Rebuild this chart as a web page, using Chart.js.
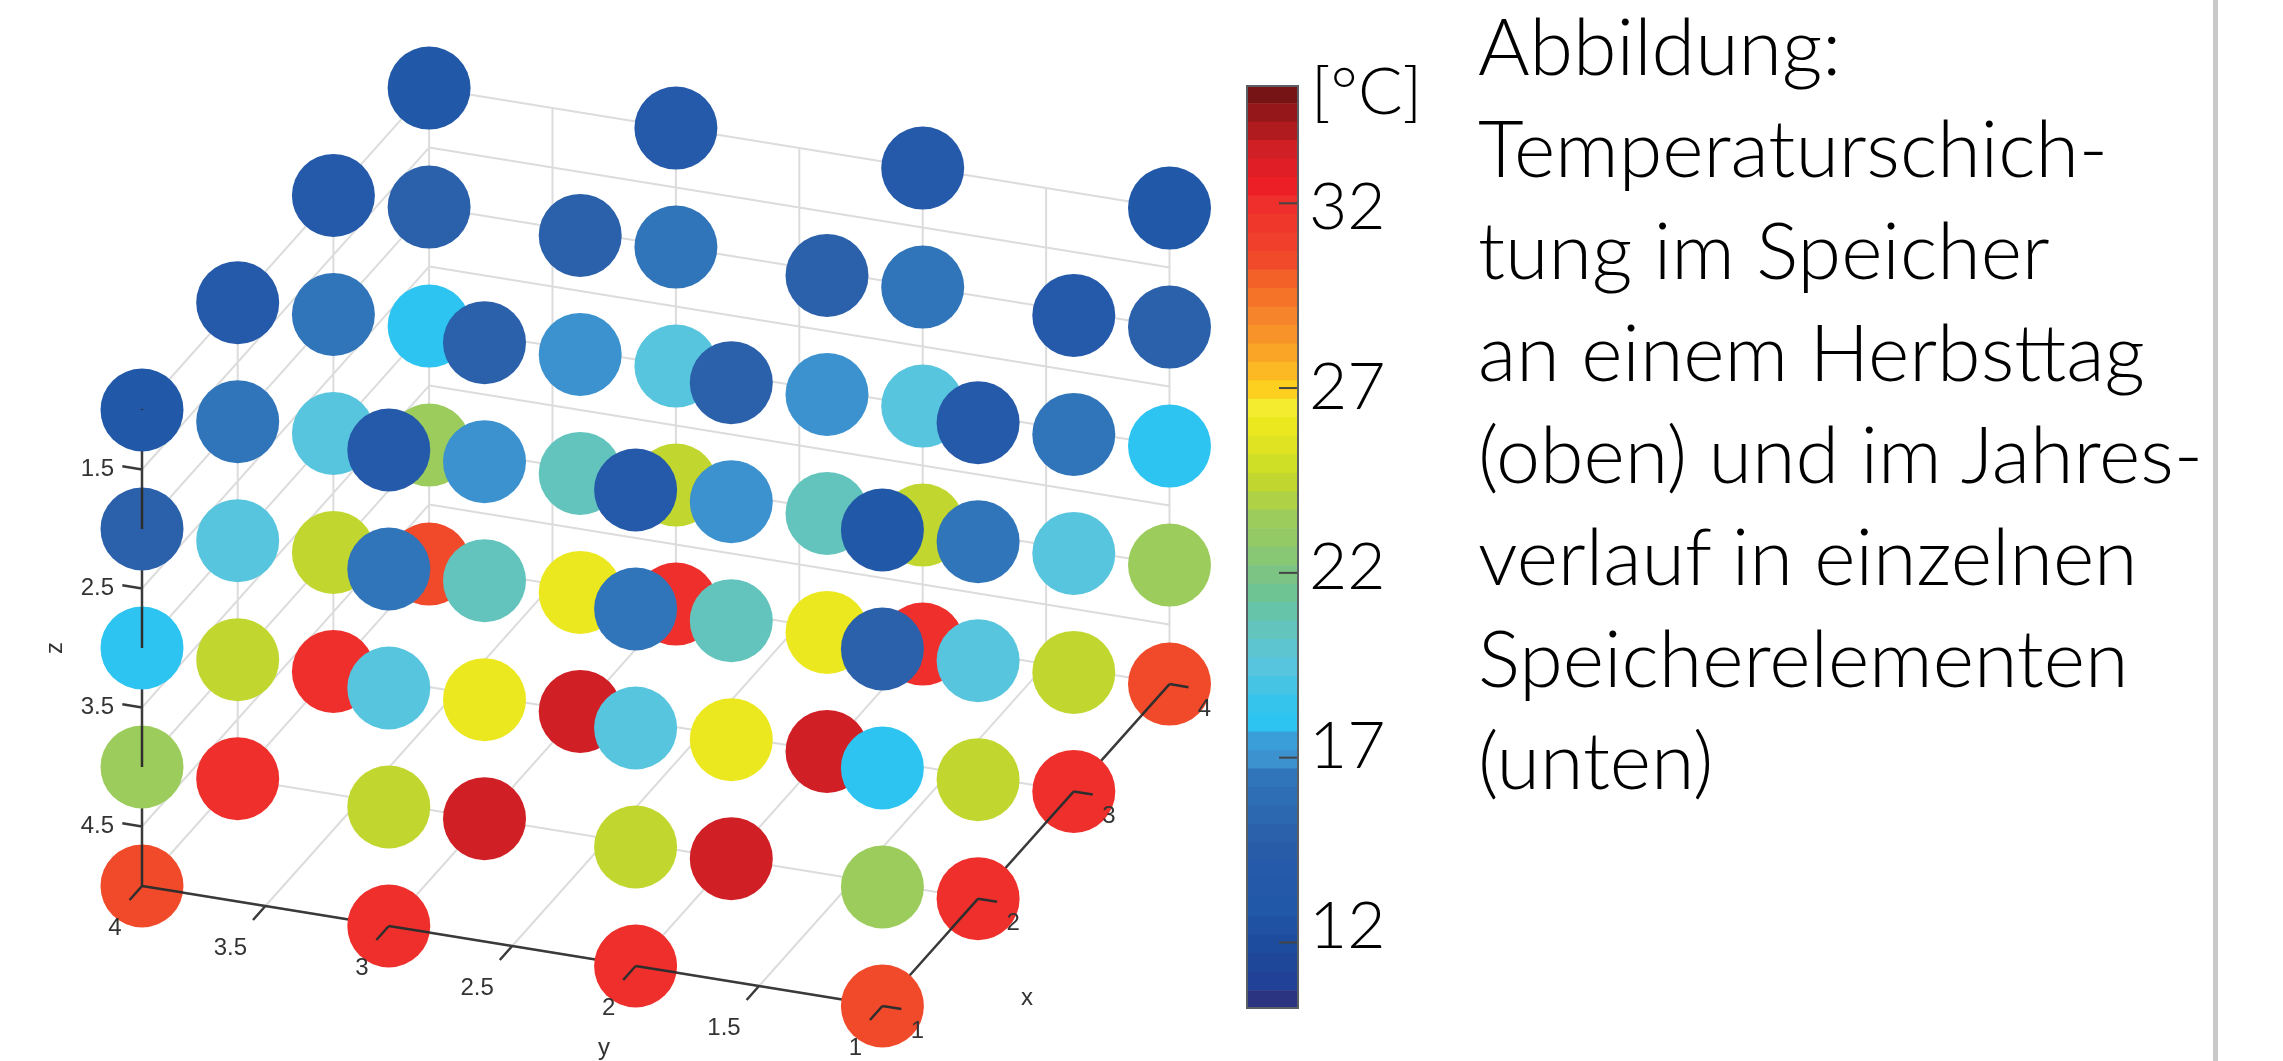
<!DOCTYPE html>
<html lang="de">
<head>
<meta charset="utf-8">
<title>Temperaturschichtung im Speicher</title>
<script src="https://cdn.jsdelivr.net/npm/chart.js@4"></script>
<style>
    html, body { margin: 0; padding: 0; background: #fff; width: 2283px; height: 1061px; overflow: hidden; }
    canvas { position: absolute; }
    #main { left: 0; top: 0; }
    #bar { left: 1246px; top: 85px; }
    #rule { position: absolute; left: 2213px; top: 0; width: 5px; height: 1061px; background: #c9c9c9; }
    #unit, #caption { position: absolute; font-family: Lato, sans-serif; font-weight: 300; color: #000; white-space: pre; }
    #unit { left: 1311px; top: 47px; font-size: 66px; line-height: 84px; }
    #caption { left: 1478px; top: -6px; font-size: 79px; line-height: 102px; }
</style>
</head>
<body>
<canvas id="main" width="1240" height="1061"></canvas>
<canvas id="bar" width="220" height="924"></canvas>
<div id="unit">[°C]</div>
<div id="caption">Abbildung:
Temperaturschich-
tung im Speicher
an einem Herbsttag
(oben) und im Jahres-
verlauf in einzelnen
Speicherelementen
(unten)</div>
<div id="rule"></div>
<script>
// Storage grid
const xValues = [1, 2, 3, 4];
const yValues = [1, 2, 3, 4];
const zValues = [1, 2, 3, 4, 5];

// Temperature in °C, one table per z layer, rows x = 1..4, columns y = 1..4
const tempZ1 = [[12.8, 14, 14, 12.8], [14, 15, 15, 14], [14, 15, 15, 14], [12.8, 14, 14, 12.8]];
const tempZ2 = [[15, 16.3, 16.3, 15], [16.3, 17, 17, 16.3], [16.3, 17, 17, 16.3], [15, 16.3, 16.3, 15]];
const tempZ3 = [[18.1, 19.4, 19.4, 18.1], [19.4, 20.4, 20.4, 19.4], [19.4, 20.4, 20.4, 19.4], [18.1, 19.4, 19.4, 18.1]];
const tempZ4 = [[23.3, 24.4, 24.4, 23.3], [24.4, 25.8, 25.8, 24.4], [24.4, 25.8, 25.8, 24.4], [23.3, 24.4, 24.4, 23.3]];
const tempZ5 = [[30.5, 31.9, 31.9, 30.5], [31.9, 33.4, 33.4, 31.9], [31.9, 33.4, 33.4, 31.9], [30.5, 31.9, 31.9, 30.5]];
const tempLayers = [tempZ1, tempZ2, tempZ3, tempZ4, tempZ5];

// Axis tick labels
const xTickLabels = ["1", "2", "3", "4"];
const yTicks = [1, 1.5, 2, 2.5, 3, 3.5, 4];
const zTicks = [1.5, 2, 2.5, 3, 3.5, 4, 4.5, 5];
const colorbarTicks = [12, 17, 22, 27, 32];

// Colour bar, one colour per 0.5 °C band from 10.2 upwards
const bandStart = 10.2;
const bandStep = 0.5;
const bandColors = [
    "#2a3480", "#214199", "#1f4799", "#1d4c9e", "#1f52a3", "#2158a8", "#2359a8", "#2559a9", "#285ca9", "#2b60ab",
    "#2c68b0", "#2d6eb5", "#3074b9", "#3b92cf", "#3a9ed8", "#2dc4f2", "#35c4ec", "#46c4e4", "#58c5de", "#5dc5cf",
    "#62c4bc", "#66c4a8", "#6fc494", "#7cc484", "#88c774", "#93ca66", "#9ccc5c", "#aed145", "#c1d72f", "#cfdf25",
    "#dfe322", "#ece81f", "#f4ec2e", "#fdd01f", "#fcb923", "#faa525", "#f8932a", "#f6842a", "#f47329", "#f36129",
    "#f04a2a", "#f0402b", "#ef372c", "#ef2f2c", "#ed1f26", "#e01e26", "#d01f25", "#b01b20", "#951719", "#761315"
];

function tempColor(t) {
    return bandColors[Math.floor((t - bandStart) / bandStep)];
}

// View of the 3D box on the flat canvas
const origin = { x: 882.4, y: 1006 };
const stepX = { x: 95.7, y: -107.3 };
const stepY = { x: -246.8, y: -40 };
const stepZ = 119;
const radius = 41.5;

function project(x, y, z) {
    return {
        x: origin.x + (x - 1) * stepX.x + (y - 1) * stepY.x,
        y: origin.y + (x - 1) * stepX.y + (y - 1) * stepY.y + (z - 5) * stepZ
    };
}

const gap = { x: NaN, y: NaN };

function addLine(list, a, b) {
    list.push(a, b, gap);
}

// Grid on the back wall, the side wall and the floor
const gridPoints = [];
const halfY = [1, 1.5, 2, 2.5, 3, 3.5, 4];
const halfZ = [1, 1.5, 2, 2.5, 3, 3.5, 4, 4.5, 5];
halfZ.forEach(z => {
    addLine(gridPoints, project(4, 1, z), project(4, 4, z));
    addLine(gridPoints, project(1, 4, z), project(4, 4, z));
});
halfY.forEach(y => {
    addLine(gridPoints, project(4, y, 1), project(4, y, 5));
    addLine(gridPoints, project(1, y, 5), project(4, y, 5));
});
xValues.forEach(x => {
    addLine(gridPoints, project(x, 4, 1), project(x, 4, 5));
    addLine(gridPoints, project(x, 1, 5), project(x, 4, 5));
});

// Axes and half step ticks sit behind the markers
const axisBack = [];
addLine(axisBack, project(1, 4, 1), project(1, 4, 5));
addLine(axisBack, project(1, 4, 5), project(1, 1, 5));
addLine(axisBack, project(1, 1, 5), project(4, 1, 5));
function tickEnd(p, dx, dy) {
    return { x: p.x + dx, y: p.y + dy };
}
zTicks.forEach(z => {
    const p = project(1, 4, z);
    addLine(axisBack, p, tickEnd(p, -19.7, -3.2));
});
yTicks.forEach(y => {
    const p = project(1, y, 5);
    addLine(axisBack, p, tickEnd(p, -12.4, 14));
});

// The part of each axis that shows on top of a marker, as in the original plot
const axisFront = [];
zValues.forEach(z => {
    const p = project(1, 4, z);
    addLine(axisFront, p, tickEnd(p, 0, z === 1 ? -1 : -radius));
});
yValues.forEach(y => {
    const p = project(1, y, 5);
    addLine(axisFront, p, tickEnd(p, -12.4, 14));
    if (y > 1) addLine(axisFront, p, tickEnd(p, 40.9, 6.6));
});
xValues.forEach(x => {
    const p = project(x, 1, 5);
    addLine(axisFront, p, tickEnd(p, 19, 3.1));
    if (x > 1) addLine(axisFront, p, tickEnd(p, -27.7, 31));
});

// Markers, the far x layers first so the near ones cover them
const markerPoints = [];
const markerColors = [];
[...xValues].reverse().forEach(x => {
    zValues.forEach(z => {
        yValues.forEach(y => {
            const t = tempLayers[z - 1][x - 1][y - 1];
            markerPoints.push(project(x, y, z));
            markerColors.push(tempColor(t));
        });
    });
});

// Tick labels are not on a straight scale here, so they are placed in the view
const labelsBehind = {
    id: "labelsBehind",
    beforeDatasetsDraw(chart) {
        const ctx = chart.ctx;
        ctx.save();
        ctx.font = "24px 'Liberation Sans'";
        ctx.fillStyle = "#333";
        ctx.textAlign = "right";
        ctx.textBaseline = "middle";
        zTicks.forEach(z => {
            const p = project(1, 4, z);
            ctx.fillText(String(z), chart.scales.x.getPixelForValue(p.x) - 28, chart.scales.y.getPixelForValue(p.y));
        });
        ctx.restore();
    }
};

const labelsFront = {
    id: "labelsFront",
    afterDatasetsDraw(chart) {
        const ctx = chart.ctx;
        ctx.save();
        ctx.font = "24px 'Liberation Sans'";
        ctx.fillStyle = "#333";
        ctx.textAlign = "center";
        ctx.textBaseline = "middle";
        yTicks.forEach(y => {
            const p = project(1, y, 5);
            const shift = Number.isInteger(y) ? 27 : 35;
            ctx.fillText(String(y), p.x - shift, p.y + 42);
        });
        xValues.forEach((x, i) => {
            const p = project(x, 1, 5);
            ctx.fillText(xTickLabels[i], p.x + 35, p.y + 25);
        });
        ctx.fillText("x", 1027, 998);
        ctx.fillText("y", 604, 1048);
        ctx.translate(55, 648);
        ctx.rotate(-Math.PI / 2);
        ctx.fillText("z", 0, 0);
        ctx.restore();
    }
};

new Chart(document.getElementById("main"), {
    type: "scatter",
    data: {
        datasets: [
            { data: gridPoints, showLine: true, pointRadius: 0, borderColor: "#dcdcdc", borderWidth: 2, order: 5, spanGaps: false },
            { data: axisBack, showLine: true, pointRadius: 0, borderColor: "#3a3a3a", borderWidth: 2.5, order: 4, spanGaps: false },
            { data: markerPoints, pointStyle: "circle", pointRadius: radius, pointBorderWidth: 0, pointBackgroundColor: markerColors, showLine: false, order: 2, clip: false },
            { data: axisFront, showLine: true, pointRadius: 0, borderColor: "#2e2e2e", borderWidth: 2.5, order: 1, spanGaps: false }
        ]
    },
    options: {
        responsive: false,
        animation: false,
        layout: { padding: 0, autoPadding: false },
        plugins: { legend: { display: false }, tooltip: { enabled: false } },
        scales: {
            x: { type: "linear", min: 0, max: 1240, display: false },
            y: { type: "linear", min: 0, max: 1061, reverse: true, display: false }
        }
    },
    plugins: [labelsBehind, labelsFront]
});

// Colour bar as floating bars, one per band
const bandDatasets = bandColors.map((color, i) => ({
    data: [[bandStart + i * bandStep, bandStart + (i + 1) * bandStep]],
    backgroundColor: color,
    borderWidth: 0,
    barPercentage: 1,
    categoryPercentage: 1,
    grouped: false
}));

const barFrame = {
    id: "barFrame",
    afterDatasetsDraw(chart) {
        const ctx = chart.ctx;
        const area = chart.chartArea;
        ctx.save();
        ctx.strokeStyle = "#444";
        ctx.lineWidth = 2;
        colorbarTicks.forEach(v => {
            const py = chart.scales.y.getPixelForValue(v);
            ctx.beginPath();
            ctx.moveTo(area.right - 20, py);
            ctx.lineTo(area.right, py);
            ctx.stroke();
        });
        ctx.strokeStyle = "#5a5f63";
        ctx.strokeRect(area.left + 1, area.top + 1, area.right - area.left - 2, area.bottom - area.top - 2);
        ctx.restore();
    }
};

function tickScale(scale) {
    scale.ticks = colorbarTicks.map(v => ({ value: v }));
}
function flatFit(scale) {
    scale.paddingTop = 0;
    scale.paddingBottom = 0;
    scale.width = 167;
}

new Chart(document.getElementById("bar"), {
    type: "bar",
    data: { labels: ["T"], datasets: bandDatasets },
    options: {
        responsive: false,
        animation: false,
        layout: { padding: 0 },
        plugins: { legend: { display: false }, tooltip: { enabled: false } },
        scales: {
            x: { display: false },
            y: { min: 10.2, max: 35.2, position: "left", display: false, afterBuildTicks: tickScale },
            // the printed numbers sit a little apart from the ticks in the reference
            yLabels: {
                position: "right",
                min: 9.72,
                max: 35.41,
                afterBuildTicks: tickScale,
                afterFit: flatFit,
                border: { display: false },
                grid: { display: false, drawTicks: false },
                ticks: { padding: 10, color: "#000", font: { family: "Lato", size: 66, weight: "300" } }
            }
        }
    },
    plugins: [barFrame]
});
</script>
</body>
</html>
